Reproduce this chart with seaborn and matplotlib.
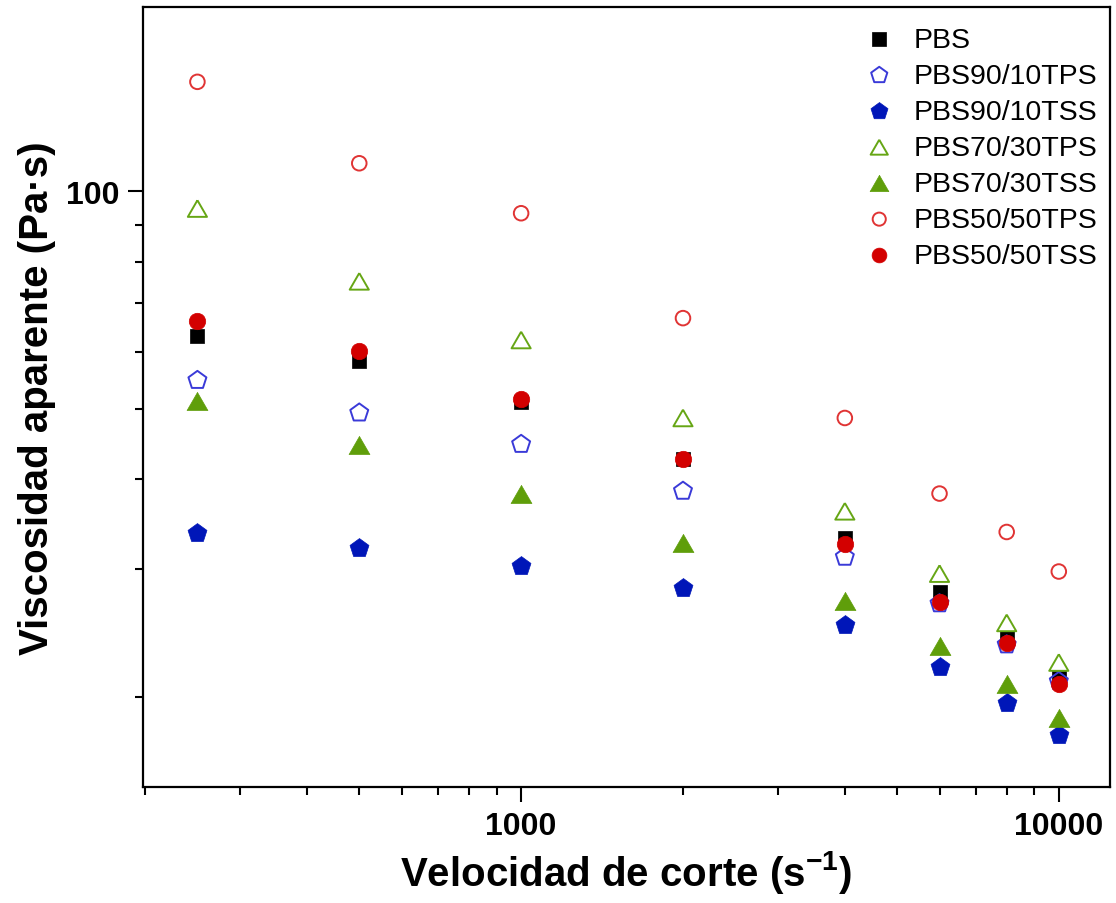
import numpy as np
import pandas as pd
import seaborn as sns
import matplotlib
matplotlib.use("Agg")
import matplotlib.pyplot as plt
from matplotlib.markers import MarkerStyle
from matplotlib.ticker import LogLocator, NullFormatter, FuncFormatter

# ---- data ----
shear_rate = [250, 500, 1000, 2000, 4000, 6000, 8000, 10000]

pbs            = [63.1, 58.2, 51.2, 42.7, 33.2, 27.9, 24.1, 21.2]
pbs90_10_tps   = [54.8, 49.4, 44.7, 38.5, 31.2, 26.9, 23.6, 21.0]
pbs90_10_tss   = [33.7, 32.1, 30.3, 28.3, 25.1, 22.0, 19.6, 17.7]
pbs70_30_tps   = [94.7, 75.1, 62.3, 48.6, 36.1, 29.6, 25.3, 22.3]
pbs70_30_tss   = [51.3, 44.6, 38.2, 32.6, 27.1, 23.5, 20.8, 18.7]
pbs50_50_tps   = [141.8, 109.4, 93.3, 66.8, 48.6, 38.2, 33.8, 29.8]
pbs50_50_tss   = [66.2, 60.2, 51.7, 42.6, 32.5, 27.0, 23.7, 20.8]

series_names = ["PBS", "PBS90/10TPS", "PBS90/10TSS", "PBS70/30TPS",
                "PBS70/30TSS", "PBS50/50TPS", "PBS50/50TSS"]
series_values = [pbs, pbs90_10_tps, pbs90_10_tss, pbs70_30_tps,
                 pbs70_30_tss, pbs50_50_tps, pbs50_50_tss]

x_label = "Velocidad de corte (s$^{\\mathbf{-1}}$)"
y_label = "Viscosidad aparente (Pa\u00b7s)"

# equilateral triangle marker (wider than tall, like the reference)
tri = MarkerStyle(np.array([(0, 0.866), (-1, -0.866), (1, -0.866), (0, 0.866)]))

# ---- styles ----
styles = {
    "PBS":         dict(marker="s", s=115, filled=True,  color="#000000"),
    "PBS90/10TPS": dict(marker="p", s=185, filled=False, color="#3a3ad8"),
    "PBS90/10TSS": dict(marker="p", s=205, filled=True,  color="#0016b8"),
    "PBS70/30TPS": dict(marker=tri, s=190, filled=False, color="#66a615"),
    "PBS70/30TSS": dict(marker=tri, s=225, filled=True,  color="#5f9e0a"),
    "PBS50/50TPS": dict(marker="o", s=110, filled=False, color="#e03434"),
    "PBS50/50TSS": dict(marker="o", s=140, filled=True,  color="#d30000"),
}

sns.set_theme(style="ticks")
plt.rcParams["font.family"] = ["Liberation Sans", "DejaVu Sans"]
plt.rcParams["mathtext.fontset"] = "custom"
plt.rcParams["mathtext.rm"] = "Liberation Sans"
plt.rcParams["mathtext.bf"] = "Liberation Sans:bold"
plt.rcParams["mathtext.it"] = "Liberation Sans:italic"
for k in ["text.color", "axes.labelcolor", "xtick.color", "ytick.color",
          "axes.edgecolor"]:
    plt.rcParams[k] = "black"

fig = plt.figure(figsize=(11.16, 9.04), dpi=100)
ax = fig.add_axes([0.1281, 0.1283, 0.9946 - 0.1281, 0.9912 - 0.1283])

rows = []
for name, vals in zip(series_names, series_values):
    for xv, yv in zip(shear_rate, vals):
        rows.append({"rate": xv, "visc": yv, "serie": name})
df = pd.DataFrame(rows)

for name in series_names:
    st = styles[name]
    sub = df[df["serie"] == name]
    if st["filled"]:
        sns.scatterplot(data=sub, x="rate", y="visc", ax=ax, marker=st["marker"],
                        s=st["s"], color=st["color"], edgecolor=st["color"],
                        linewidth=0.5, label=name, zorder=3)
    else:
        sns.scatterplot(data=sub, x="rate", y="visc", ax=ax, marker=st["marker"],
                        s=st["s"], facecolor="none", edgecolor=st["color"],
                        linewidth=1.4, label=name, zorder=3)

ax.set_xscale("log")
ax.set_yscale("log")
ax.set_xlim(198, 12450)
ax.set_ylim(15, 180)

fmt = FuncFormatter(lambda v, p: f"{int(round(v))}")
ax.xaxis.set_major_locator(LogLocator(base=10))
ax.xaxis.set_minor_locator(LogLocator(base=10, subs=np.arange(2, 10)))
ax.xaxis.set_major_formatter(fmt)
ax.xaxis.set_minor_formatter(NullFormatter())
ax.yaxis.set_major_locator(LogLocator(base=10))
ax.yaxis.set_minor_locator(LogLocator(base=10, subs=np.arange(2, 10)))
ax.yaxis.set_major_formatter(fmt)
ax.yaxis.set_minor_formatter(NullFormatter())

for sp in ax.spines.values():
    sp.set_linewidth(1.6)
    sp.set_color("black")
    sp.set_visible(True)

ax.tick_params(axis="both", which="major", direction="out", length=11, width=1.5,
               labelsize=23, pad=6, colors="black", top=False, right=False)
ax.tick_params(axis="both", which="minor", direction="out", length=5.5, width=1.5,
               top=False, right=False, colors="black")
for lab in ax.get_xticklabels() + ax.get_yticklabels():
    lab.set_fontweight("bold")

ax.set_xlabel(x_label, fontsize=29, fontweight="bold", color="black")
ax.set_ylabel(y_label, fontsize=29, fontweight="bold", color="black")
ax.yaxis.set_label_coords(-0.090, 0.5)
ax.xaxis.set_label_coords(0.5, -0.078)

leg = ax.legend(loc="upper right", bbox_to_anchor=(1.0, 0.991), frameon=False,
                fontsize=20.5, borderaxespad=0.05, handletextpad=0.5,
                labelspacing=0.35, markerscale=0.9, handlelength=1.4,
                borderpad=0.4)
for t in leg.get_texts():
    t.set_color("black")

fig.savefig("out.png", dpi=100)
